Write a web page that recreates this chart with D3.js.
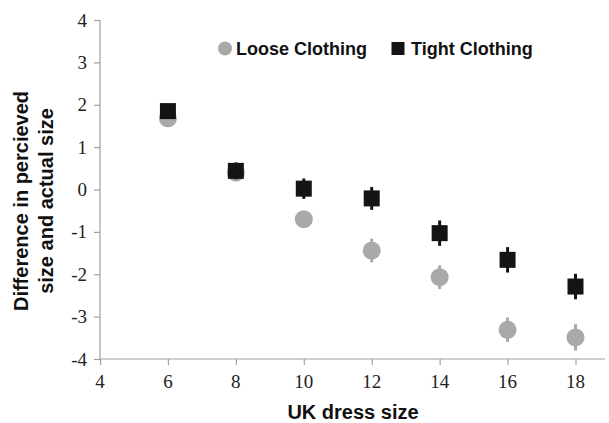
<!DOCTYPE html>
<html><head><meta charset="utf-8">
<script src="https://cdn.jsdelivr.net/npm/d3@7"></script>
<style>body{margin:0;background:#fff}svg{display:block}</style>
</head><body>
<svg id="c" width="609" height="423"></svg>
<script>
const sizes = [6, 8, 10, 12, 14, 16, 18];
const looseMean = [1.68, 0.40, -0.70, -1.44, -2.07, -3.31, -3.49];
const looseErr  = [0.10, 0.15, 0.15, 0.28, 0.28, 0.29, 0.31];
const tightMean = [1.85, 0.44, 0.02, -0.21, -1.03, -1.66, -2.29];
const tightErr  = [0.12, 0.20, 0.24, 0.27, 0.30, 0.30, 0.30];
const xTicks = [4, 6, 8, 10, 12, 14, 16, 18];
const yTicks = [-4, -3, -2, -1, 0, 1, 2, 3, 4];
const seriesNames = ["Loose Clothing", "Tight Clothing"];

const svg = d3.select("#c");
const x = d3.scaleLinear().domain([4, 18]).range([100, 575.5]);
const y = d3.scaleLinear().domain([-4, 4]).range([359, 20]);
const axisColor = "#a0a0a0";
const gray = "#a9a9a9", black = "#141414";
const serif = "Liberation Serif";

// axes (tick lines via d3 axes, labels drawn from the same scales)
const xa = svg.append("g").attr("transform", `translate(0,${y(-4)})`)
  .call(d3.axisBottom(x).tickValues(xTicks).tickSize(6).tickSizeOuter(0).tickFormat(""));
const ya = svg.append("g").attr("transform", `translate(${x(4)},0)`)
  .call(d3.axisLeft(y).tickValues(yTicks).tickSize(6).tickSizeOuter(0).tickFormat(""));
[xa, ya].forEach(g => {
  g.select(".domain").remove();
  g.selectAll(".tick line").attr("stroke", axisColor).attr("stroke-width", 1.2);
});
svg.append("g").selectAll("text").data(xTicks).enter().append("text")
  .attr("x", d => x(d)).attr("y", 388).attr("text-anchor", "middle")
  .attr("font-family", serif).attr("font-size", 19).attr("fill", "#222").text(d => d);
svg.append("g").selectAll("text").data(yTicks).enter().append("text")
  .attr("x", 87).attr("y", d => y(d) + 6.5).attr("text-anchor", "end")
  .attr("font-family", serif).attr("font-size", 19).attr("fill", "#222").text(d => d);
svg.append("line").attr("x1", x(4)).attr("x2", 605).attr("y1", y(-4)).attr("y2", y(-4)).attr("stroke", axisColor).attr("stroke-width", 1.2);
svg.append("line").attr("x1", x(4)).attr("x2", x(4)).attr("y1", y(4)).attr("y2", y(-4)).attr("stroke", axisColor).attr("stroke-width", 1.2);

// series
function drawSeries(means, errs, color, shape) {
  const data = sizes.map((s, i) => ({s, m: means[i], e: errs[i]}));
  const g = svg.append("g");
  g.selectAll("line.err").data(data).enter().append("line")
    .attr("x1", d => x(d.s)).attr("x2", d => x(d.s))
    .attr("y1", d => y(d.m + d.e)).attr("y2", d => y(d.m - d.e))
    .attr("stroke", color).attr("stroke-width", 3);
  if (shape === "circle") {
    g.selectAll("circle").data(data).enter().append("circle")
      .attr("cx", d => x(d.s)).attr("cy", d => y(d.m)).attr("r", 9).attr("fill", color);
  } else {
    g.selectAll("rect").data(data).enter().append("rect")
      .attr("x", d => x(d.s) - 8).attr("y", d => y(d.m) - 8).attr("width", 16).attr("height", 16).attr("fill", color);
  }
}
drawSeries(looseMean, looseErr, gray, "circle");
drawSeries(tightMean, tightErr, black, "rect");

// legend
const lf = "Liberation Sans";
svg.append("circle").attr("cx", 225).attr("cy", 48.5).attr("r", 7).attr("fill", gray);
svg.append("text").attr("x", 236).attr("y", 55).text(seriesNames[0])
  .attr("font-family", lf).attr("font-size", 18).attr("font-weight", "bold").attr("fill", "#111");
svg.append("rect").attr("x", 391.5).attr("y", 42).attr("width", 13).attr("height", 13).attr("fill", black);
svg.append("text").attr("x", 411).attr("y", 55).text(seriesNames[1])
  .attr("font-family", lf).attr("font-size", 18).attr("font-weight", "bold").attr("fill", "#111");

// titles
svg.append("text").attr("x", 353).attr("y", 419).attr("text-anchor", "middle").text("UK dress size")
  .attr("font-family", lf).attr("font-size", 20).attr("font-weight", "bold").attr("fill", "#111");
const yt = svg.append("text").attr("transform", "translate(28,201) rotate(-90)").attr("text-anchor", "middle")
  .attr("font-family", lf).attr("font-size", 20).attr("font-weight", "bold").attr("fill", "#111");
yt.append("tspan").attr("x", 0).attr("y", 0).text("Difference in percieved");
yt.append("tspan").attr("x", 0).attr("y", 25).text("size and actual size");
</script>
</body></html>
